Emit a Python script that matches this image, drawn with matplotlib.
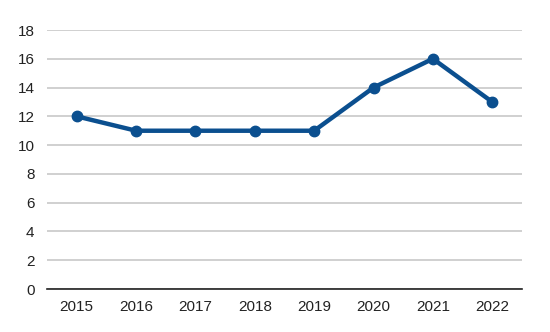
import matplotlib.pyplot as plt

years = ["2015", "2016", "2017", "2018", "2019", "2020", "2021", "2022"]
values = [12, 11, 11, 11, 11, 14, 16, 13]
yticks = [0, 2, 4, 6, 8, 10, 12, 14, 16, 18]

plt.rcParams["font.family"] = ["Liberation Sans", "DejaVu Sans"]

fig = plt.figure(figsize=(5.5, 3.32), dpi=100)
ax = fig.add_axes([0.0855, 0.1295, 0.8635, 0.7801])

x = range(len(years))
ax.plot(x, values, color="#0b4f8f", linewidth=3.2, marker="o", markersize=7.5, zorder=3)

ax.set_xlim(-0.5, len(years) - 0.5)
ax.set_ylim(0, 18)
ax.set_yticks(yticks)
ax.set_xticks(list(x))
ax.set_xticklabels(years)
ax.grid(axis="y", color="#c8c8c8", linewidth=1.2)
ax.set_axisbelow(True)

for side in ["top", "right", "left"]:
    ax.spines[side].set_visible(False)
ax.spines["bottom"].set_color("#222222")
ax.spines["bottom"].set_linewidth(1.2)
ax.tick_params(length=0, labelsize=11, colors="#222222")
ax.tick_params(axis="y", pad=9)
ax.tick_params(axis="x", pad=8)

fig.savefig("out.png", dpi=100)
